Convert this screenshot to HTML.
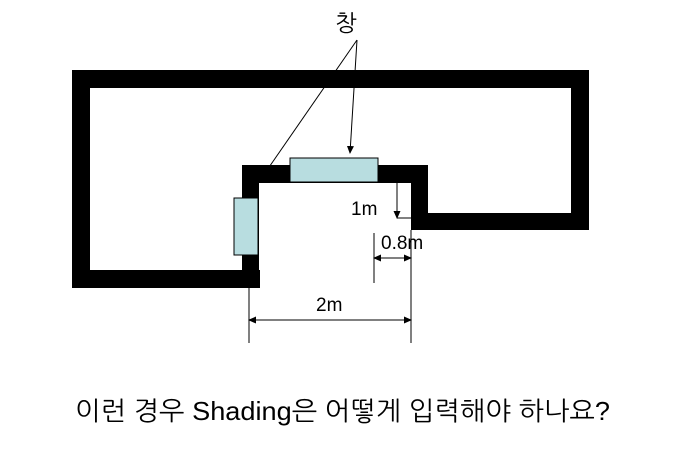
<!DOCTYPE html>
<html><head><meta charset="utf-8"><style>html,body{margin:0;padding:0;background:#fff}</style></head>
<body>
<svg width="683" height="456" viewBox="0 0 683 456" xmlns="http://www.w3.org/2000/svg">
<defs><marker id="a" markerWidth="8" markerHeight="8" refX="7" refY="4" orient="auto" markerUnits="userSpaceOnUse"><path d="M0,0.5 L8,4 L0,7.5 z" fill="#000"/></marker></defs>
<g fill="#000">
<rect x="72" y="70" width="517" height="18"/>
<rect x="72" y="70" width="18" height="218"/>
<rect x="72" y="270" width="188" height="18"/>
<rect x="571" y="70" width="18" height="160"/>
<rect x="411" y="213" width="178" height="17"/>
<rect x="242" y="165" width="17" height="123"/>
<rect x="242" y="165" width="186" height="18"/>
<rect x="411" y="165" width="17" height="65"/>
</g>
<rect x="290" y="158" width="88" height="24" fill="#b8dde0" stroke="#000" stroke-width="1"/>
<rect x="234" y="198" width="24" height="57" fill="#b8dde0" stroke="#000" stroke-width="1"/>
<text x="346" y="31" font-family="'Liberation Sans','NanumGothic',sans-serif" font-size="23" text-anchor="middle">창</text>
<g stroke="#000" stroke-width="1" fill="none">
<line x1="357" y1="40" x2="265" y2="173"/>
<line x1="357" y1="40" x2="350" y2="153" marker-end="url(#a)"/>
<line x1="397" y1="183" x2="397" y2="218" marker-end="url(#a)"/>
<line x1="397" y1="218" x2="411" y2="218"/>
<line x1="374" y1="233" x2="374" y2="283"/>
<line x1="411" y1="230" x2="411" y2="343"/>
<line x1="390" y1="258" x2="411" y2="258" marker-end="url(#a)"/>
<line x1="395" y1="258" x2="374" y2="258" marker-end="url(#a)"/>
<line x1="249" y1="288" x2="249" y2="343"/>
<line x1="330" y1="320" x2="411" y2="320" marker-end="url(#a)"/>
<line x1="330" y1="320" x2="249" y2="320" marker-end="url(#a)"/>
</g>
<g font-family="'Liberation Sans',sans-serif" font-size="19" fill="#000">
<text x="351" y="215">1m</text>
<text x="381" y="249">0.8m</text>
<text x="316" y="311">2m</text>
</g>
<text x="75" y="420" font-family="'Liberation Sans','NanumGothic',sans-serif" font-size="26" textLength="535" lengthAdjust="spacingAndGlyphs">이런 경우 Shading은 어떻게 입력해야 하나요?</text>
</svg>
</body></html>
